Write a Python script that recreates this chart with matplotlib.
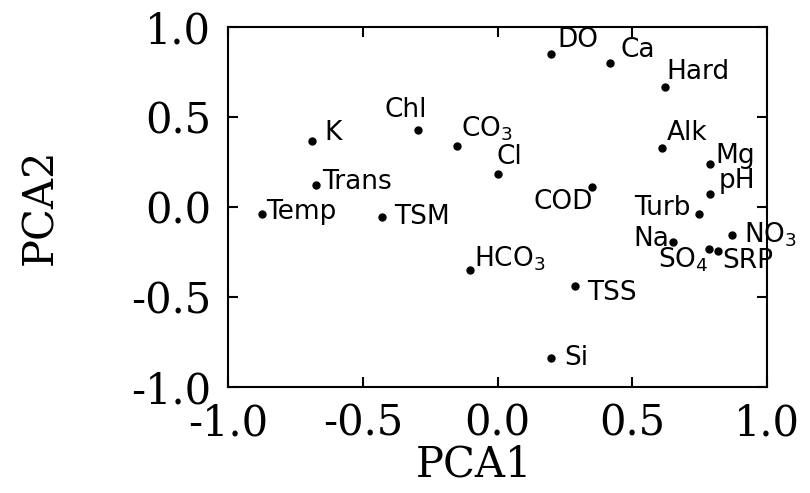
import matplotlib
matplotlib.use("Agg")
import matplotlib.pyplot as plt

# PCA loadings
variables = ["K", "Chl", "CO$_3$", "Cl", "Trans", "Temp", "TSM", "HCO$_3$",
             "DO", "Ca", "Hard", "Alk", "Mg", "pH", "COD", "Turb", "Na",
             "NO$_3$", "SO$_4$", "SRP", "TSS", "Si"]
pca1 = [-0.688, -0.295, -0.150, 0.000, -0.673, -0.874, -0.428, -0.102,
        0.199, 0.417, 0.621, 0.610, 0.788, 0.788, 0.351, 0.748, 0.651,
        0.870, 0.785, 0.818, 0.288, 0.199]
pca2 = [0.367, 0.428, 0.339, 0.183, 0.122, -0.039, -0.056, -0.350,
        0.850, 0.800, 0.667, 0.328, 0.239, 0.072, 0.111, -0.039, -0.194,
        -0.156, -0.233, -0.244, -0.439, -0.839]

# label placement (pixel offset from the point, horizontal alignment)
label_pos = {
    "K": (12, 8, "left"), "Chl": (-12, 20, "center"), "CO$_3$": (4, 17, "left"),
    "Cl": (-1, 17, "left"), "Trans": (6, 3, "left"), "Temp": (4, 2, "left"),
    "TSM": (12, 0, "left"), "HCO$_3$": (4, 11, "left"), "DO": (6, 14, "left"),
    "Ca": (11, 13, "left"), "Hard": (2, 15, "left"), "Alk": (5, 15, "left"),
    "Mg": (6, 8, "left"), "pH": (9, 13, "left"), "COD": (1, -15, "right"),
    "Turb": (-8, 6, "right"), "Na": (-4, 3, "right"), "NO$_3$": (12, 0, "left"),
    "SO$_4$": (-1, -11, "right"), "SRP": (4, -10, "left"), "TSS": (12, -7, "left"),
    "Si": (13, 0, "left"),
}

plt.rcParams["mathtext.fontset"] = "dejavusans"

fig = plt.figure(figsize=(8.1, 4.93), dpi=100)
ax = fig.add_axes([0.2815, 0.215, 0.6654, 0.730])

ax.plot(pca1, pca2, "o", color="black", markersize=5, linestyle="none")

for name, x, y in zip(variables, pca1, pca2):
    dx, dy, ha = label_pos[name]
    ax.annotate(name, (x, y), xytext=(dx, dy), textcoords="offset pixels",
                ha=ha, va="center", fontsize=19, family="DejaVu Sans")

ax.set_xlim(-1, 1)
ax.set_ylim(-1, 1)
ticks = [-1.0, -0.5, 0.0, 0.5, 1.0]
ax.set_xticks(ticks)
ax.set_yticks(ticks)
ax.set_xticklabels([f"{t:.1f}" for t in ticks])
ax.set_yticklabels([f"{t:.1f}" for t in ticks])

ax.tick_params(direction="in", length=7, width=1.5, top=True, right=True,
               labelsize=30)
ax.tick_params(axis="x", pad=11)
ax.tick_params(axis="y", pad=12)
for lab in ax.get_xticklabels() + ax.get_yticklabels():
    lab.set_family("DejaVu Serif")
for s in ax.spines.values():
    s.set_linewidth(1.5)

ax.set_xlabel("PCA1", fontsize=30, family="DejaVu Serif")
ax.set_ylabel("PCA2", fontsize=30, family="DejaVu Serif")
ax.xaxis.set_label_coords(0.456, -0.158)
ax.yaxis.set_label_coords(-0.31, 0.5)

fig.savefig("out.png", dpi=100)
